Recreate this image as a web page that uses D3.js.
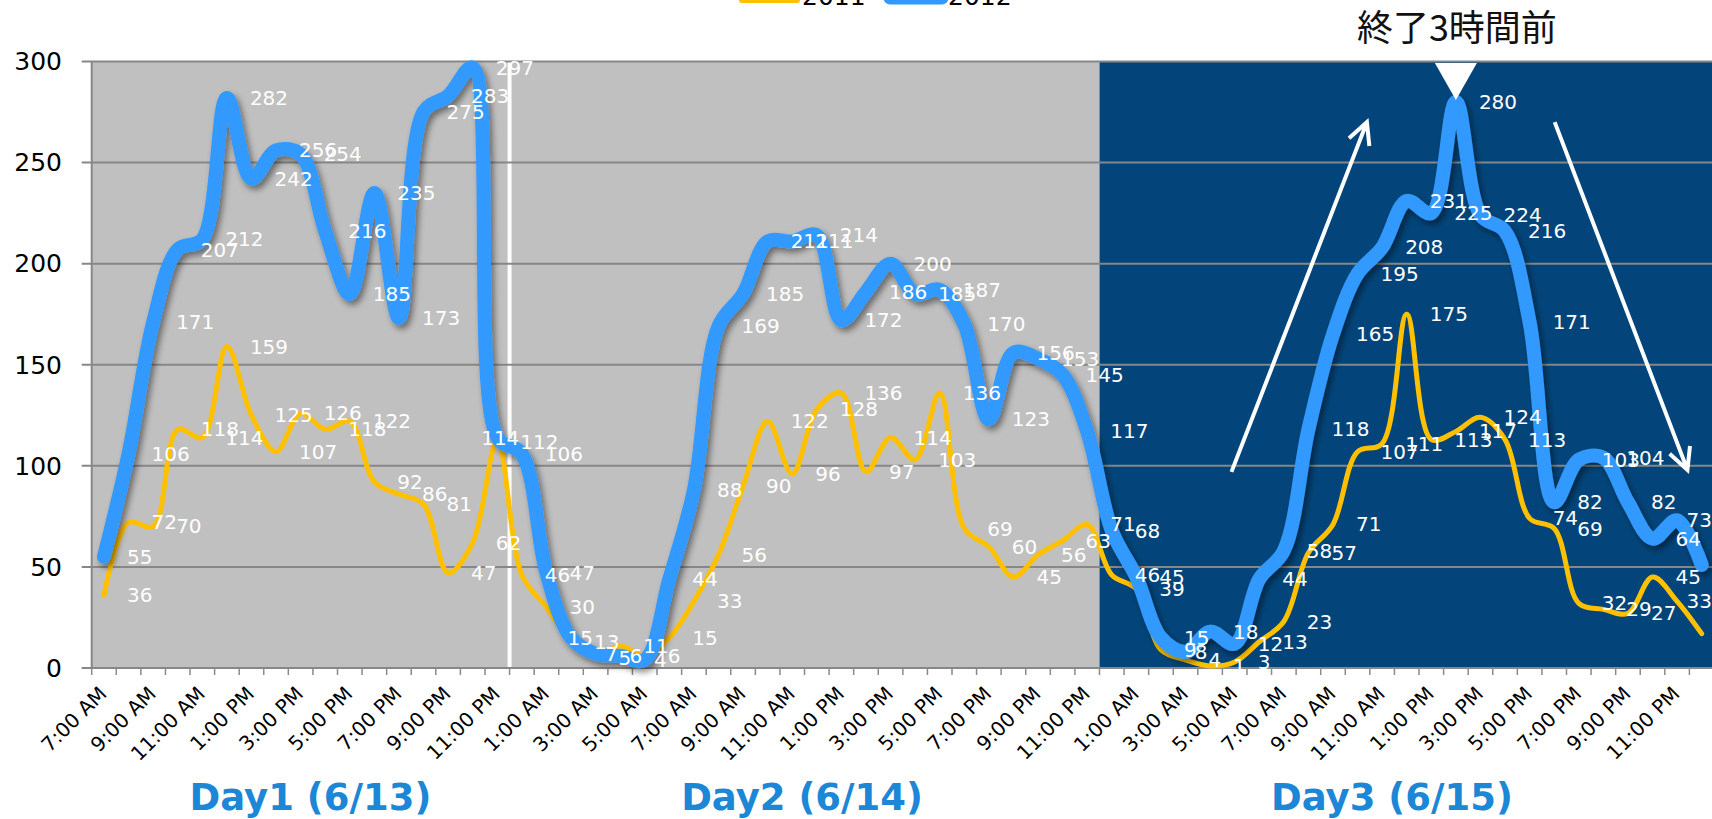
<!DOCTYPE html>
<html><head><meta charset="utf-8">
<script src="https://cdn.jsdelivr.net/npm/d3@7"></script>
<style>
html,body{margin:0;padding:0;background:#fff;overflow:hidden}
svg{display:block}
</style></head><body>
<svg id="chart" width="1712" height="819"></svg>
<script>
(function(){
// ---------- DATA ----------
const hoursOfDay = ["12:00 AM","1:00 AM","2:00 AM","3:00 AM","4:00 AM","5:00 AM","6:00 AM","7:00 AM","8:00 AM","9:00 AM","10:00 AM","11:00 AM",
  "12:00 PM","1:00 PM","2:00 PM","3:00 PM","4:00 PM","5:00 PM","6:00 PM","7:00 PM","8:00 PM","9:00 PM","10:00 PM","11:00 PM"];
const categories = [
  ...hoursOfDay.slice(7).map(h => "6/13 " + h),
  ...hoursOfDay.map(h => "6/14 " + h),
  ...hoursOfDay.map(h => "6/15 " + h),
  "6/16 12:00 AM"
];
const series2011 = [
  36,72,70,118,114,159,125,107,126,118,122,92,86,81,47,62,112,
  46,30,13,5,11,6,15,33,56,90,122,96,128,136,97,114,103,136,69,60,45,56,63,71,
  46,39,9,4,1,3,13,23,57,71,107,111,175,113,117,124,113,74,69,32,29,27,45,33,17
];
const series2012 = [
  55,106,171,207,212,282,242,256,254,216,185,235,173,275,283,297,114,
  106,47,15,7,6,4,44,88,169,185,211,211,214,172,186,200,185,187,170,123,156,153,145,117,
  68,45,15,8,18,12,44,58,118,165,195,208,231,225,280,224,216,171,82,103,104,82,64,73,51
];
const seriesNames = ["2011", "2012"];
const yTicks = [0, 50, 100, 150, 200, 250, 300];
const dayLabels = ["Day1 (6/13)", "Day2 (6/14)", "Day3 (6/15)"];
const dayStartIndex = [0, 17, 41];
const annotationText = "終了3時間前";

// ---------- LAYOUT ----------
const W = 1712, H = 819;
const plotLeft = 91.7, bw = 24.58, plotTop = 61.5, plotBottom = 668;
const n = categories.length;
const x = d3.scaleBand().domain(d3.range(n)).range([plotLeft, plotLeft + n * bw]).padding(0);
const cx = i => x(i) + x.bandwidth() / 2;
const y = d3.scaleLinear().domain([0, 300]).range([plotBottom, plotTop]);
const xc = c => plotLeft + c * x.bandwidth();
const FONT = "DejaVu Sans, Verdana, sans-serif";

const svg = d3.select("#chart");
const defs = svg.append("defs");
const f = defs.append("filter").attr("id", "shadow").attr("x", "-20%").attr("y", "-20%").attr("width", "140%").attr("height", "140%");
f.append("feDropShadow").attr("dx", 3).attr("dy", 4).attr("stdDeviation", 3)
  .attr("flood-color", "#000").attr("flood-opacity", 0.45);

// plot backgrounds
svg.append("rect").attr("x", plotLeft).attr("y", plotTop)
  .attr("width", x(dayStartIndex[2]) - plotLeft).attr("height", plotBottom - plotTop).attr("fill", "#c0c0c0");
svg.append("rect").attr("x", x(dayStartIndex[2])).attr("y", plotTop)
  .attr("width", W - x(dayStartIndex[2])).attr("height", plotBottom - plotTop).attr("fill", "#03457a");
svg.append("line").attr("x1", x(dayStartIndex[1])).attr("x2", x(dayStartIndex[1]))
  .attr("y1", plotTop).attr("y2", plotBottom).attr("stroke", "#fff").attr("stroke-width", 4);

// gridlines
svg.append("g").selectAll("line").data(yTicks).join("line")
  .attr("x1", plotLeft - 10).attr("x2", W)
  .attr("y1", d => y(d)).attr("y2", d => y(d))
  .attr("stroke", "#878787").attr("stroke-width", 2);
svg.append("line").attr("x1", plotLeft).attr("x2", plotLeft).attr("y1", plotTop).attr("y2", plotBottom)
  .attr("stroke", "#878787").attr("stroke-width", 2);
svg.append("g").selectAll("line").data(d3.range(n + 1)).join("line")
  .attr("x1", d => plotLeft + d * bw).attr("x2", d => plotLeft + d * bw)
  .attr("y1", plotBottom).attr("y2", plotBottom + 7)
  .attr("stroke", "#8a8a8a").attr("stroke-width", 1.5);

// y labels
svg.append("g").selectAll("text").data(yTicks).join("text")
  .attr("x", 62).attr("y", d => y(d)).attr("dy", "0.35em")
  .attr("text-anchor", "end").attr("font-family", FONT)
  .attr("font-size", 25).attr("fill", "#000").text(d => d);

// x labels (every 2nd category)
svg.append("g").selectAll("text").data(categories.map((c, i) => ({c, i})).filter(d => d.i % 2 === 0)).join("text")
  .attr("transform", d => `translate(${cx(d.i) - 1},690) rotate(-45)`)
  .attr("dy", "0.35em").attr("text-anchor", "end")
  .attr("font-family", FONT).attr("font-size", 20).attr("fill", "#000")
  .text(d => d.c.split(" ").slice(1).join(" "));

// lines
const line = d3.line().x((d, i) => cx(i)).y(d => y(d)).curve(d3.curveCatmullRom.alpha(0.5));
svg.append("path").datum(series2011).attr("d", line)
  .attr("fill", "none").attr("stroke", "#ffc000").attr("stroke-width", 5)
  .attr("stroke-linejoin", "round").attr("stroke-linecap", "round");
svg.append("path").datum(series2012).attr("d", line)
  .attr("fill", "none").attr("stroke", "#3399ff").attr("stroke-width", 14)
  .attr("stroke-linejoin", "round").attr("stroke-linecap", "round")
  .attr("filter", "url(#shadow)");

// data labels (right of each point; when both series' labels collide at the
// same hour, the 2012 label is set just to the left of the 2011 one)
const labelW = v => String(v).length * 12.7;
const labels = [];
series2011.forEach((v, i) => labels.push({v, i, s: 0, x: cx(i) + 23, y: y(v)}));
series2012.forEach((v, i) => {
  let lx = cx(i) + 23;
  if (Math.abs(y(v) - y(series2011[i])) < 11) lx -= labelW(v) + 1;
  labels.push({v, i, s: 1, x: lx, y: y(v)});
});
const shown = labels.filter(d => cx(d.i) + 23 < W)
  .map(d => Object.assign(d, {x: Math.min(d.x, W - labelW(d.v))}));
svg.append("g").selectAll("text").data(shown).join("text")
  .attr("x", d => d.x).attr("y", d => d.y).attr("dy", "0.35em")
  .attr("font-family", FONT).attr("font-size", 20)
  .attr("fill", "#fff").text(d => d.v);

// legend (top, partially cut)
const legend = svg.append("g");
legend.append("line").attr("x1", 742).attr("x2", 797).attr("y1", 0).attr("y2", 0)
  .attr("stroke", "#ffc000").attr("stroke-width", 6).attr("stroke-linecap", "round");
legend.append("text").attr("x", 802).attr("y", 5).attr("font-family", FONT)
  .attr("font-size", 25).attr("fill", "#000").text(seriesNames[0]);
legend.append("line").attr("x1", 890).attr("x2", 942).attr("y1", -2).attr("y2", -2)
  .attr("stroke", "#3399ff").attr("stroke-width", 13).attr("stroke-linecap", "round");
legend.append("text").attr("x", 948).attr("y", 5).attr("font-family", FONT)
  .attr("font-size", 25).attr("fill", "#000").text(seriesNames[1]);

// day labels
const dayCenters = [8.9, 28.9, 52.9];
svg.append("g").selectAll("text").data(dayLabels).join("text")
  .attr("x", (d, i) => xc(dayCenters[i])).attr("y", 810)
  .attr("text-anchor", "middle").attr("font-family", FONT)
  .attr("font-weight", "bold").attr("font-size", 37).attr("fill", "#1b87d6").text(d => d);

// peak marker and annotation
const peakIdx = series2012.indexOf(d3.max(series2012.slice(dayStartIndex[2])), dayStartIndex[2]);
const px = cx(peakIdx);
svg.append("path")
  .attr("d", `M${px - 21},${y(300) + 1.5} L${px + 21},${y(300) + 1.5} L${px},${y(281)} Z`)
  .attr("fill", "#fff");
svg.append("text").attr("x", px + 1).attr("y", 41).attr("text-anchor", "middle")
  .attr("font-family", "Noto Sans CJK JP, sans-serif").attr("font-size", 36).attr("fill", "#111")
  .text(annotationText);

// arrows
function arrow(c0, v0, c1, v1) {
  const x0 = xc(c0), y0 = y(v0), x1 = xc(c1), y1 = y(v1);
  const ang = Math.atan2(y0 - y1, x0 - x1);
  const L = 24, a = 27 * Math.PI / 180;
  const w1 = [x1 + L * Math.cos(ang + a), y1 + L * Math.sin(ang + a)];
  const w2 = [x1 + L * Math.cos(ang - a), y1 + L * Math.sin(ang - a)];
  svg.append("path")
    .attr("d", `M${x0},${y0} L${x1},${y1} M${w1[0]},${w1[1]} L${x1},${y1} L${w2[0]},${w2[1]}`)
    .attr("fill", "none").attr("stroke", "#fff").attr("stroke-width", 4)
    .attr("stroke-linecap", "butt").attr("stroke-linejoin", "miter");
}
arrow(46.37, 97, 51.88, 270);
arrow(59.52, 270, 64.92, 98);
})();
</script>
</body></html>
